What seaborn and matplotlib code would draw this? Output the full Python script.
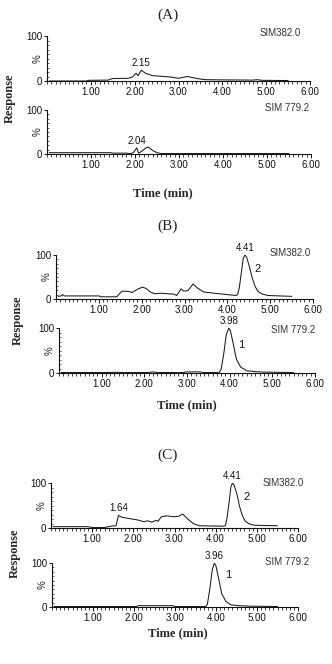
import numpy as np
import matplotlib
matplotlib.use('Agg')
import matplotlib.pyplot as plt
import seaborn as sns
from matplotlib.ticker import MultipleLocator

# ---- data (time in min, response in %) ----
# panel A: blank
a_382_t = [0.05, 0.9, 0.95, 1.4, 1.45, 1.5, 1.85, 1.95, 2.03, 2.08, 2.15, 2.25, 2.4, 2.8, 3.0, 3.1, 3.2, 3.3,
           3.45, 3.6, 4.0, 4.7, 4.8, 4.9, 5.5]
a_382_y = [0, 0, 1.5, 2, 4, 5.5, 6, 9, 17, 12, 24, 17, 12, 9, 6, 8, 10, 8, 5, 3, 2.5, 2, 3, 1.5, 1]
a_779_t = [0.05, 1.45, 1.5, 1.8, 1.9, 1.97, 2.04, 2.08, 2.15, 2.22, 2.3, 2.4, 2.5, 2.6, 5.5]
a_779_y = [3, 3, 2, 2, 0.5, 4, 14, 2, 6, 12, 16, 8, 3, 1, 1]

# panel B
b_382_t = [0.05, 0.12, 0.15, 0.2, 1.0, 1.05, 1.42, 1.5, 1.55, 1.7, 1.78, 1.9, 2.02, 2.1, 2.2, 2.3, 2.45, 2.6,
           2.75, 2.82, 2.92, 2.98, 3.08, 3.2, 3.3, 3.45, 3.7, 4.0, 4.2, 4.24, 4.28, 4.33, 4.37, 4.41, 4.45,
           4.52, 4.58, 4.65, 4.72, 4.82, 4.95, 5.5]
b_382_y = [6, 7, 10, 7, 7, 5, 5, 14, 18, 17, 15, 22, 27, 24, 16, 12, 13, 12, 11, 8, 23, 18, 19, 34, 25, 16,
           13, 10, 8, 10, 26, 62, 92, 100, 95, 72, 48, 28, 17, 11, 8, 6]
b_779_t = [0.05, 1.0, 1.4, 1.5, 2.1, 2.2, 2.3, 2.9, 3.0, 3.3, 3.4, 3.75, 3.8, 3.86, 3.92, 3.98, 4.02, 4.09,
           4.16, 4.26, 4.4, 4.6, 4.8, 5.5]
b_779_y = [1, 1, 1.5, 1, 1, 2.5, 1, 1, 2.5, 2.5, 1, 1, 8, 42, 85, 100, 93, 62, 30, 13, 5, 3, 2, 1]

# panel C
c_382_t = [0.05, 0.9, 1.0, 1.3, 1.45, 1.58, 1.64, 1.72, 1.9, 2.1, 2.25, 2.35, 2.45, 2.55, 2.6, 2.68, 2.8,
           3.0, 3.1, 3.2, 3.3, 3.45, 3.6, 4.2, 4.24, 4.28, 4.33, 4.37, 4.41, 4.45, 4.52, 4.58, 4.65, 4.72,
           4.82, 4.95, 5.5]
c_382_y = [3, 3, 1, 1, 4, 5, 28, 24, 21, 18, 14, 16, 13, 17, 15, 25, 27, 25, 26, 31, 22, 10, 5, 4, 6, 25,
           60, 92, 100, 95, 74, 48, 27, 15, 9, 6, 5]
c_779_t = [0.05, 2.05, 2.1, 2.95, 3.0, 3.75, 3.79, 3.85, 3.91, 3.96, 4.0, 4.07, 4.14, 4.24, 4.36, 4.55, 4.8, 5.5]
c_779_y = [1, 1, 3, 3, 1, 1, 6, 42, 85, 100, 93, 62, 30, 13, 5, 3, 2, 1]

# retention-time labels and compound numbers
a_382_peaks, a_779_peaks = ['2.15'], ['2.04']
b_382_peaks, b_779_peaks = ['4.41'], ['3.98']
c_382_peaks, c_779_peaks = ['1.64', '4.41'], ['3.96']
compound_382, compound_779 = '2', '1'
channels = ['SIM382.0', 'SIM 779.2']
panel_titles = ['(A)', '(B)', '(C)']
x_ticks = [1, 2, 3, 4, 5, 6]
x_tick_labels = ['1.00', '2.00', '3.00', '4.00', '5.00', '6.00']

sns.set_style('ticks')
plt.rcParams['font.family'] = ['Liberation Sans', 'DejaVu Sans']

W, H = 332, 664
fig = plt.figure(figsize=(W / 100, H / 100), dpi=100)
line_color = '#1a1a1a'


def add_trace(x0, x6, ytop, ybot, t, y, peaks, compound=None, comp_offset=(8, -10)):
    ax = fig.add_axes([x0 / W, 1 - ybot / H, (x6 - x0) / W, (ybot - ytop) / H])
    sns.lineplot(x=t, y=y, ax=ax, color=line_color, linewidth=0.75)
    ax.set_xlim(0, 6)
    ax.set_ylim(0, 100)
    ax.set_xticks(x_ticks)
    ax.set_xticklabels(x_tick_labels)
    ax.set_yticks([0, 100])
    ax.set_yticklabels(['0', '100'])
    ax.xaxis.set_minor_locator(MultipleLocator(0.1))
    ax.yaxis.set_minor_locator(MultipleLocator(10))
    ax.tick_params(axis='x', which='major', length=3.2, width=0.7, pad=1, labelsize=7, colors='#111')
    ax.tick_params(axis='x', which='minor', length=2.3, width=0.6, direction='out', colors='#222')
    ax.tick_params(axis='y', which='major', length=2.5, width=0.7, pad=1, labelsize=7, colors='#111')
    ax.tick_params(axis='y', which='minor', length=1.5, width=0.5, direction='in', colors='#222')
    ax.set_xlabel('')
    ax.set_ylabel('')
    sns.despine(ax=ax)
    for s in ['left', 'bottom']:
        ax.spines[s].set_linewidth(0.8)
        ax.spines[s].set_color('#111')
    ax.annotate('%', xy=(0, 0.5), xycoords='axes fraction', xytext=(-7, 0), textcoords='offset points',
                rotation=90, ha='center', va='center', fontsize=7, color='#222')
    for p in peaks:
        pt = float(p)
        py = np.interp(pt, t, y)
        ax.annotate(p, xy=(pt, py), xytext=(0, 1.5), textcoords='offset points', ha='center',
                    va='bottom', fontsize=7, color='#111', annotation_clip=False)
    if compound is not None:
        pt = float(peaks[-1])
        py = np.interp(pt, t, y)
        ax.annotate(compound, xy=(pt, py), xytext=comp_offset, textcoords='offset points', ha='center',
                    va='center', fontsize=8, color='#111', annotation_clip=False)
    return ax


# panel A
add_trace(47, 310, 36, 81, a_382_t, a_382_y, a_382_peaks)
add_trace(47, 311, 110, 154, a_779_t, a_779_y, a_779_peaks)
# panel B
add_trace(56, 313, 255, 299, b_382_t, b_382_y, b_382_peaks, compound_382, (9, -10))
add_trace(59, 315, 328, 373, b_779_t, b_779_y, b_779_peaks, compound_779, (9, -12))
# panel C
add_trace(51, 298, 483, 528, c_382_t, c_382_y, c_382_peaks, compound_382, (10, -10))
add_trace(52, 298, 563, 607, c_779_t, c_779_y, c_779_peaks, compound_779, (10, -9))


def ftext(x, y, s, **kw):
    fig.text(x / W, 1 - y / H, s, **kw)


serif = ['Liberation Serif', 'DejaVu Serif']
for title, (tx, ty) in zip(panel_titles, [(168, 15), (168, 226), (168, 455)]):
    ftext(tx, ty, title, ha='center', va='center', fontsize=11, family=serif)
for (rx, ry) in [(10, 98), (18, 320), (15, 553)]:
    ftext(rx, ry, 'Response', ha='center', va='center', rotation=90, fontsize=9, fontweight='bold',
          family=serif)
for (tx, ty) in [(163, 193), (187, 405), (178, 633)]:
    ftext(tx, ty, 'Time (min)', ha='center', va='center', fontsize=9, fontweight='bold', family=serif)

for (sx, sy), ch in zip([(280, 33), (287, 108), (290, 253), (293, 330), (283, 483), (287, 562)],
                        channels * 3):
    ftext(sx, sy, ch, ha='center', va='center', fontsize=7, color='#333')

fig.savefig('out.png', dpi=100)
